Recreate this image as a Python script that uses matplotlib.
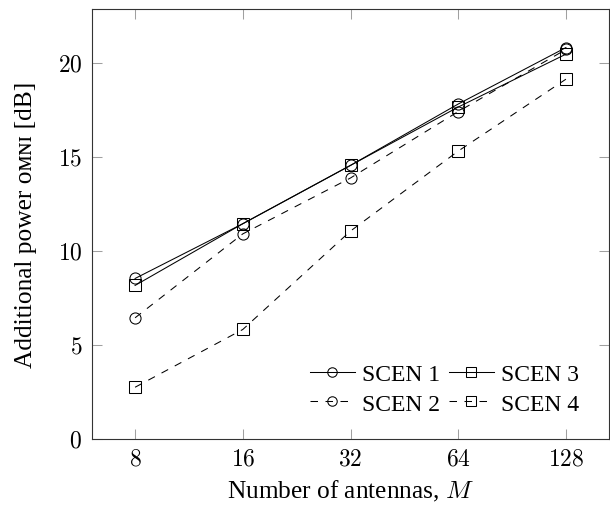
import matplotlib
matplotlib.use("Agg")
import matplotlib.pyplot as plt
from matplotlib.ticker import FixedLocator, FixedFormatter, NullLocator

plt.rcParams['font.family'] = ['Liberation Serif', 'DejaVu Serif', 'DejaVu Sans']
plt.rcParams['mathtext.fontset'] = 'cm'
plt.rcParams['lines.scale_dashes'] = False

# antenna counts
antennas = [8, 16, 32, 64, 128]

# additional power per scenario [dB]
scen1 = [8.53, 11.44, 14.54, 17.8, 20.8]
scen2 = [6.44, 10.9, 13.87, 17.4, 20.7]
scen3 = [8.16, 11.44, 14.54, 17.64, 20.45]
scen4 = [2.75, 5.82, 11.05, 15.3, 19.12]

labels = ["SCEN 1", "SCEN 2", "SCEN 3", "SCEN 4"]

xtick_vals = [8, 16, 32, 64, 128]
ytick_vals = [0, 5, 10, 15, 20]

fig = plt.figure(figsize=(6.1, 5.06), dpi=100)
ax = fig.add_axes([92 / 610, 66 / 506, 517 / 610, 430 / 506])

dash = (0, (5.4, 5.4))
common = dict(color='black', lw=0.75, markersize=8, markerfacecolor='none',
              markeredgecolor='black', markeredgewidth=0.75)

ax.plot(antennas, scen1, marker='o', linestyle='-', label=labels[0], **common)
ax.plot(antennas, scen2, marker='o', linestyle=dash, label=labels[1], **common)
ax.plot(antennas, scen3, marker='s', linestyle='-', label=labels[2], **common)
ax.plot(antennas, scen4, marker='s', linestyle=dash, label=labels[3], **common)

ax.set_xscale('log', base=2)
ax.set_xlim(2 ** 2.6, 2 ** 7.4)
ax.set_ylim(0, 22.85)

ax.xaxis.set_major_locator(FixedLocator(xtick_vals))
ax.xaxis.set_major_formatter(FixedFormatter([f"${v}$" for v in xtick_vals]))
ax.xaxis.set_minor_locator(NullLocator())
ax.yaxis.set_major_locator(FixedLocator(ytick_vals))
ax.yaxis.set_major_formatter(FixedFormatter([f"${v}$" for v in ytick_vals]))

ax.tick_params(direction='in', length=7.2, width=0.75, color='#a0a0a0',
               top=True, right=True, labelsize=17, pad=7)
for sp in ax.spines.values():
    sp.set_color('#333333')
    sp.set_linewidth(0.8)

ax.set_xlabel("Number of antennas, $M$", fontsize=18.3, labelpad=6)
ax.set_ylabel("Additional power \u1d0f\u1d0d\u0274\u026a [dB]", fontsize=18.3, labelpad=15)

ax.legend(ncol=2, loc='lower right', frameon=False, fontsize=17,
          handlelength=1.9, handletextpad=0.3, columnspacing=0.38,
          labelspacing=0.32, markerscale=0.85,
          bbox_to_anchor=(0.96, 0.035), borderaxespad=0.0)

fig.savefig("out.png", dpi=100)
